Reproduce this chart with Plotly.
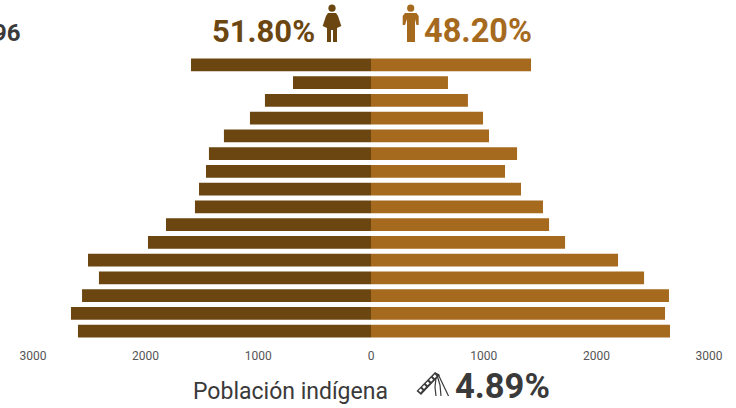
import plotly.graph_objects as go

groups = [f"G{i}" for i in range(16, 0, -1)]
mujeres = [1597, 692, 941, 1074, 1305, 1438, 1464, 1526, 1562, 1819, 1979, 2511, 2414, 2564, 2662, 2600]
hombres = [1420, 683, 860, 994, 1047, 1296, 1189, 1331, 1526, 1580, 1722, 2192, 2423, 2644, 2609, 2653]
tick_values = [-3000, -2000, -1000, 0, 1000, 2000, 3000]
tick_labels = ["3000", "2000", "1000", "0", "1000", "2000", "3000"]

DARK = "#6b4610"
LIGHT = "#a56a1e"
INK = "#3a3a3a"
W, H = 736, 408
TOP, BOTTOM = 56, 340
SCALE = 0.1127  # px per person
FONT = "Roboto"


def px(x):
    return x / W


def py(y):
    return (BOTTOM - y) / (BOTTOM - TOP)


def path(points, close=True):
    d = "M" + " L".join(f"{px(x):.5f},{py(y):.5f}" for x, y in points)
    return d + (" Z" if close else "")


def circle(cx, cy, r, color):
    return dict(type="circle", xref="paper", yref="paper", x0=px(cx - r), x1=px(cx + r),
                y0=py(cy + r), y1=py(cy - r), fillcolor=color, line_width=0)


def poly(points, color):
    return dict(type="path", xref="paper", yref="paper", path=path(points), fillcolor=color, line_width=0)


def stroke(points, color, width=1.2, dash="solid"):
    return dict(type="path", xref="paper", yref="paper", path=path(points, False),
                line=dict(color=color, width=width, dash=dash))


woman = [circle(332, 8.2, 3.6, DARK),
         poly([(328, 13), (336, 13), (338, 16), (341.3, 26), (337, 28), (337, 42), (333, 42), (333, 30),
               (331, 30), (331, 42), (327, 42), (327, 28), (322.7, 26), (326, 16)], DARK)]
man = [circle(410.7, 8.2, 3.6, LIGHT),
       poly([(405, 13), (416.5, 13), (418.7, 16), (418.7, 25), (416.5, 25), (415, 19), (415, 42), (407, 42),
             (407, 19), (405, 25), (402.7, 25), (402.7, 16)], LIGHT)]
icon = [poly([(416.5, 391), (435, 372), (440, 375), (421, 395)], INK),
        stroke([(419.5, 391.5), (436.5, 374.5)], "white", 2.6, "3px,2px"),
        stroke([(438, 374), (448.5, 396)], INK),
        stroke([(437, 375), (440, 385), (441, 396)], INK),
        stroke([(436, 378), (435, 387), (436, 396)], INK)]

fig = go.Figure()
fig.add_bar(y=groups, x=[-v for v in mujeres], orientation="h", marker=dict(color=DARK, line_width=0), width=0.73)
fig.add_bar(y=groups, x=hombres, orientation="h", marker=dict(color=LIGHT, line_width=0), width=0.73)


def label(text, x, y, size, color, anchor="left", weight=700):
    fig.add_annotation(text=text, xref="paper", yref="paper", x=px(x), y=py(y), xanchor=anchor, yanchor="middle",
                       showarrow=False, font=dict(family=FONT, size=size, color=color, weight=weight))


label("51.80%", 317, 31, 31, DARK, "right")
label("48.20%", 422, 31, 32.5, LIGHT, "left")
label("96", 23, 33, 24, INK, "right", 700)
label("Población indígena", 191, 391, 23, INK, "left", 400)
label("4.89%", 453, 386, 34.5, INK, "left", 700)

fig.update_layout(
    width=W, height=H, barmode="overlay", showlegend=False,
    margin=dict(l=0, r=0, t=TOP, b=H - BOTTOM, pad=0),
    paper_bgcolor="white", plot_bgcolor="white",
    shapes=woman + man + icon,
    xaxis=dict(range=[-371 / SCALE, (W - 371) / SCALE], tickvals=tick_values, ticktext=tick_labels,
               showgrid=False, zeroline=False, showline=False, ticks="outside", ticklen=5,
               tickcolor="rgba(0,0,0,0)", tickfont=dict(family=FONT, size=12, color="#555555")),
    yaxis=dict(categoryorder="array", categoryarray=groups,
               autorange="reversed", showticklabels=False, showgrid=False, zeroline=False, showline=False, ticks=""),
)
fig.write_html("out.html", config={"displayModeBar": False},
               post_script="document.body.style.margin='0';document.documentElement.style.overflow='hidden';")
